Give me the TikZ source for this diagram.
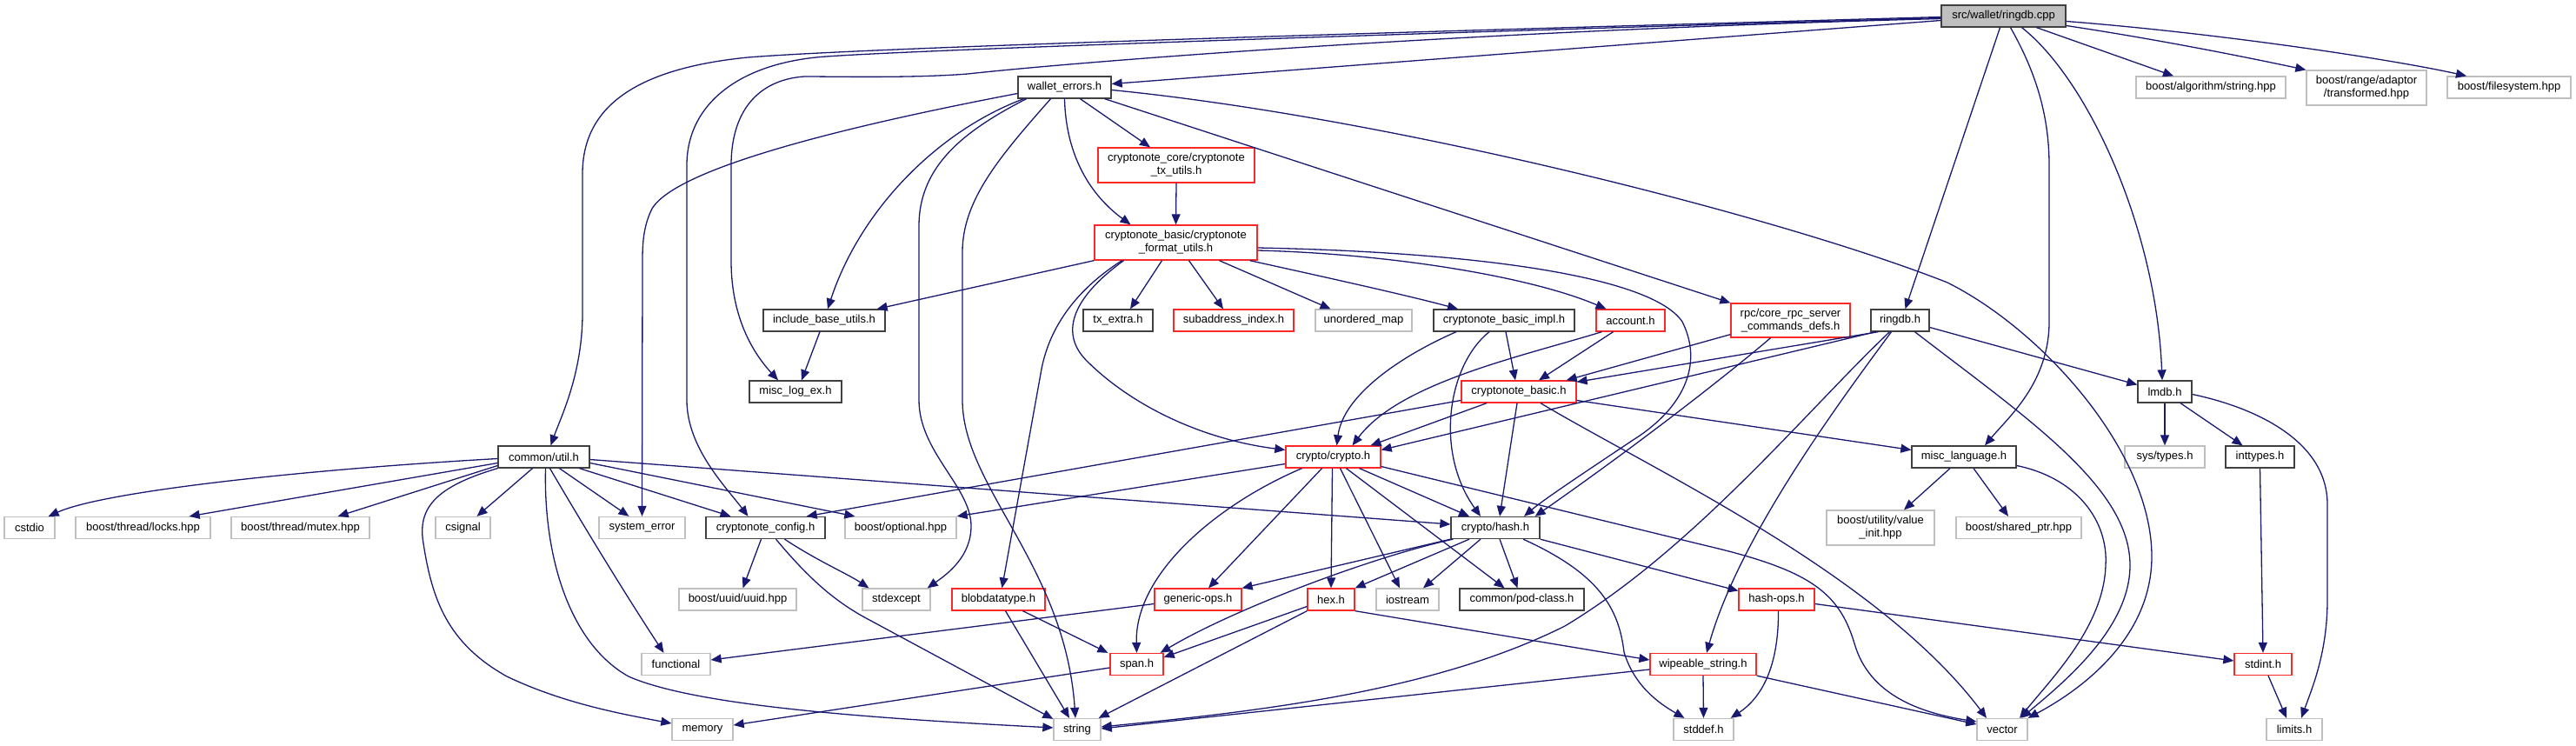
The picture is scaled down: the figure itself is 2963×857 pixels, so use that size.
\documentclass[tikz,border=0pt]{standalone}
\usepackage{fontspec}
\setmainfont{Liberation Sans}
\usetikzlibrary{arrows.meta}
\definecolor{edgec}{RGB}{25,25,112}
\definecolor{bdark}{RGB}{64,64,64}
\definecolor{bred}{RGB}{250,40,40}
\definecolor{bgray}{RGB}{191,191,191}
\begin{document}
\begin{tikzpicture}[x=1pt,y=-1pt,
  font=\fontsize{13}{15}\selectfont,
  box/.style={draw, line width=1.3pt, fill=white, inner sep=0pt, align=center, text=black, minimum height=25pt},
  dk/.style={box, draw=bdark},
  rd/.style={box, draw=bred},
  gy/.style={box, draw=bgray},
  rt/.style={box, draw=bdark, fill=bgray},
  e/.style={draw=edgec, line width=1.3pt, -{Triangle[length=12pt,width=10pt]}}]
\useasboundingbox (0,0) rectangle (2963,857);
% nodes
\node[rt, minimum width=143pt] (root) at (2304.5,18.5) {src/wallet/ringdb.cpp};
\node[dk, minimum width=107pt] (we) at (1224.5,100.5) {wallet\_errors.h};
\node[rd, minimum width=180pt, minimum height=40pt] (txu) at (1353,190) {cryptonote\_core/cryptonote\\\_tx\_utils.h};
\node[rd, minimum width=187pt, minimum height=40pt] (fmt) at (1352.5,279) {cryptonote\_basic/cryptonote\\\_format\_utils.h};
\node[dk, minimum width=140pt] (ibu) at (948,368.5) {include\_base\_utils.h};
\node[dk, minimum width=106pt] (mle) at (915,450.5) {misc\_log\_ex.h};
\node[dk, minimum width=80pt] (txe) at (1286,368.5) {tx\_extra.h};
\node[rd, minimum width=138pt] (sai) at (1419,368.5) {subaddress\_index.h};
\node[gy, minimum width=111pt] (um) at (1568.5,368.5) {unordered\_map};
\node[dk, minimum width=162pt] (cbi) at (1730,368.5) {cryptonote\_basic\_impl.h};
\node[rd, minimum width=79pt] (acc) at (1875.5,368.5) {account.h};
\node[rd, minimum width=137pt, minimum height=39pt] (rpc) at (2059.5,368.5) {rpc/core\_rpc\_server\\\_commands\_defs.h};
\node[dk, minimum width=67pt] (rdh) at (2185.5,368.5) {ringdb.h};
\node[gy, minimum width=172pt] (bas) at (2543,100.5) {boost/algorithm/string.hpp};
\node[gy, minimum width=138pt, minimum height=40pt] (brt) at (2722,101) {boost/range/adaptor\\/transformed.hpp};
\node[gy, minimum width=142pt] (bfs) at (2886,100.5) {boost/filesystem.hpp};
\node[rd, minimum width=132pt] (cbh) at (1747,450.5) {cryptonote\_basic.h};
\node[dk, minimum width=62pt] (lmdb) at (2490,450.5) {lmdb.h};
\node[dk, minimum width=105pt] (cu) at (625.5,525.5) {common/util.h};
\node[rd, minimum width=109pt] (cc) at (1533.5,525.5) {crypto/crypto.h};
\node[dk, minimum width=120pt] (ml) at (2259,525.5) {misc\_language.h};
\node[gy, minimum width=92pt] (syt) at (2490,525.5) {sys/types.h};
\node[dk, minimum width=79pt] (itt) at (2599.5,525.5) {inttypes.h};
\node[gy, minimum width=58pt] (cstdio) at (34,607) {cstdio};
\node[gy, minimum width=155pt] (btl) at (164.5,607) {boost/thread/locks.hpp};
\node[gy, minimum width=159pt] (btm) at (345.5,607) {boost/thread/mutex.hpp};
\node[gy, minimum width=63pt] (csig) at (532.5,607) {csignal};
\node[gy, minimum width=99pt] (se) at (738.5,607) {system\_error};
\node[dk, minimum width=137pt] (ccfg) at (880.5,607) {cryptonote\_config.h};
\node[gy, minimum width=128pt] (bopt) at (1036,607) {boost/optional.hpp};
\node[dk, minimum width=102pt] (ch) at (1720,607) {crypto/hash.h};
\node[gy, minimum width=124pt, minimum height=40pt] (bvi) at (2163,607) {boost/utility/value\\\_init.hpp};
\node[gy, minimum width=144pt] (bsp) at (2322,607) {boost/shared\_ptr.hpp};
\node[gy, minimum width=135pt] (buu) at (848.5,689.5) {boost/uuid/uuid.hpp};
\node[gy, minimum width=78pt] (sexc) at (1031,689.5) {stdexcept};
\node[rd, minimum width=107pt] (blob) at (1148.5,689.5) {blobdatatype.h};
\node[rd, minimum width=100pt] (gen) at (1378,689.5) {generic-ops.h};
\node[rd, minimum width=54pt] (hex) at (1531,689.5) {hex.h};
\node[gy, minimum width=72pt] (ios) at (1619,689.5) {iostream};
\node[dk, minimum width=143pt] (pod) at (1750.5,689.5) {common/pod-class.h};
\node[rd, minimum width=87pt] (hops) at (2043.5,689.5) {hash-ops.h};
\node[gy, minimum width=79pt] (func) at (777.5,764) {functional};
\node[rd, minimum width=61pt] (span) at (1307.5,764) {span.h};
\node[rd, minimum width=122pt] (wps) at (1959,764) {wipeable\_string.h};
\node[rd, minimum width=66pt] (sint) at (2603,764) {stdint.h};
\node[gy, minimum width=70pt] (mem) at (808,839) {memory};
\node[gy, minimum width=54pt] (str) at (1239,839) {string};
\node[gy, minimum width=69pt] (sdef) at (1959.5,839) {stddef.h};
\node[gy, minimum width=58pt] (vec) at (2303,839) {vector};
\node[gy, minimum width=64pt] (lim) at (2639,839) {limits.h};
% root edges
\draw[e] ([yshift=-5pt]root.west) -- ([yshift=4pt]we.east);
\draw[e] ([yshift=-1pt]root.west) .. controls (1500,40) and (1000,55) .. (860,66) .. controls (720,80) and (670,130) .. (670,200) -- (670,360) .. controls (670,430) and (645,480) .. ([xshift=8]cu.north);
\draw[e] ([yshift=-2pt]root.west) .. controls (1500,42) and (1050,58) .. (950,65) .. controls (850,72) and (790,120) .. (790,190) -- (790,460) .. controls (790,515) and (835,560) .. ([xshift=-20]ccfg.north);
\draw[e] ([yshift=-3pt]root.west) .. controls (1700,35) and (1250,70) .. (1113,85) .. controls (1050,90) and (960,88) .. (925,88) .. controls (870,92) and (841,130) .. (841,190) -- (841,300) .. controls (841,370) and (870,410) .. ([xshift=-20]mle.north);
\draw[e] ([xshift=-4]root.south) -- ([xshift=6]rdh.north);
\draw[e] ([xshift=8]root.south) .. controls (2340,80) and (2357,130) .. (2357,190) -- (2357,370) .. controls (2357,440) and (2310,480) .. ([xshift=24]ml.north);
\draw[e] ([xshift=21]root.south) .. controls (2400,90) and (2480,260) .. ([xshift=-3]lmdb.north);
\draw[e] ([xshift=38]root.south) -- ([xshift=-43]bas.north);
\draw[e] ([yshift=-11pt]root.east) .. controls (2480,45) and (2580,65) .. (brt.north west);
\draw[e] ([yshift=-6pt]root.east) .. controls (2550,38) and (2750,68) .. ([xshift=-49]bfs.north);
% wallet_errors
\draw[e] ([xshift=18]we.south) -- ([xshift=-30]txu.north);
\draw[e] (we.south) .. controls (1226,180) and (1255,225) .. ([xshift=-52]fmt.north);
\draw[e] ([xshift=-47]we.south) .. controls (1080,150) and (990,240) .. ([xshift=4]ibu.north);
\draw[e] ([yshift=-7pt]we.west) .. controls (1000,140) and (780,190) .. (750,240) .. controls (740,260) and (739,280) .. (739,300) -- (se.north);
\draw[e] ([xshift=-44]we.south) .. controls (1110,150) and (1057,190) .. (1057,260) -- (1057,460) .. controls (1057,520) and (1117,560) .. (1117,605) .. controls (1117,640) and (1090,660) .. ([xshift=-4]sexc.north east);
\draw[e] ([xshift=-16]we.south) .. controls (1150,180) and (1107,230) .. (1107,290) -- (1107,460) .. controls (1107,560) and (1225,650) .. ([xshift=-2]str.north);
\draw[e] ([xshift=-8]we.south east) -- (rpc.north west);
\draw[e] ([yshift=-3pt]we.east) .. controls (1600,135) and (2050,250) .. (2240,325) .. controls (2350,380) and (2475,520) .. (2475,640) .. controls (2475,730) and (2400,790) .. (vec.north east);
\draw[e] (txu.south) -- (fmt.north);
% format utils
\draw[e] (fmt.south west) -- ([xshift=-10]ibu.north east);
\draw[e] ([xshift=-62]fmt.south) .. controls (1235,335) and (1205,380) .. (1197,430) -- ([xshift=4]blob.north);
\draw[e] ([xshift=-60]fmt.south) .. controls (1230,345) and (1220,385) .. (1250,415) .. controls (1300,465) and (1380,505) .. ([yshift=8pt]cc.west);
\draw[e] ([xshift=-16]fmt.south) -- ([xshift=14]txe.north);
\draw[e] ([xshift=15]fmt.south) -- ([xshift=-12]sai.north);
\draw[e] ([xshift=50]fmt.south) -- ([xshift=-38]um.north);
\draw[e] ([xshift=-9]fmt.south east) .. controls (1530,320) and (1620,340) .. ([xshift=-53]cbi.north);
\draw[e] ([yshift=-9pt]fmt.east) .. controls (1600,292) and (1760,318) .. ([xshift=-28]acc.north);
\draw[e] ([yshift=-6pt]fmt.east) .. controls (1700,290) and (1900,318) .. (1935,370) .. controls (1960,420) and (1935,470) .. (1880,505) .. controls (1820,545) and (1775,575) .. ([xshift=33]ch.north);
% ringdb.h
\draw[e] ([xshift=-25]rdh.south) -- ([yshift=-2pt]cbh.north east);
\draw[e] ([xshift=-28]rdh.south) -- ([yshift=8pt]cc.east);
\draw[e] ([xshift=-12]rdh.south) .. controls (2080,470) and (1950,630) .. (1800,720) .. controls (1650,795) and (1450,818) .. ([yshift=3pt]str.east);
\draw[e] ([xshift=-10]rdh.south) .. controls (2110,470) and (2000,620) .. ([xshift=4]wps.north);
\draw[e] ([xshift=17]rdh.south) .. controls (2330,480) and (2450,560) .. (2450,650) .. controls (2450,720) and (2380,780) .. ([xshift=-8]vec.north east);
\draw[e] ([yshift=-8pt]rdh.east) -- ([yshift=8pt]lmdb.west);
% rpc
\draw[e] ([yshift=4pt]rpc.south west) -- ([xshift=-12]cbh.north east);
\draw[e] ([xshift=-23]rpc.south) .. controls (2000,420) and (1900,500) .. ([xshift=-6]ch.north east);
% basic impl, account
\draw[e] ([xshift=-55]cbi.south) .. controls (1610,410) and (1545,455) .. ([xshift=4]cc.north);
\draw[e] ([xshift=2]cbi.south) -- ([xshift=-4]cbh.north);
\draw[e] ([xshift=-17]cbi.south) .. controls (1665,420) and (1650,520) .. ([xshift=-17]ch.north);
\draw[e] ([xshift=-33]acc.south) .. controls (1750,410) and (1610,440) .. ([xshift=22]cc.north);
\draw[e] ([xshift=-20]acc.south) -- ([xshift=23]cbh.north);
% cryptonote_basic.h
\draw[e] ([xshift=-37]cbh.south) -- ([xshift=43]cc.north);
\draw[e] ([xshift=-2]cbh.south) -- ([xshift=5]ch.north);
\draw[e] ([yshift=-10pt]cbh.west) -- ([xshift=-22]ccfg.north east);
\draw[e] ([yshift=-10pt]cbh.east) -- ([yshift=8pt]ml.west);
\draw[e] ([xshift=25]cbh.south) .. controls (1900,540) and (2160,660) .. ([xshift=-18]vec.north);
% crypto.h
\draw[e] ([xshift=-13]cc.south) -- ([xshift=12]gen.north);
\draw[e] ([xshift=-36]cc.south) .. controls (1400,580) and (1305,660) .. (span.north);
\draw[e] ([yshift=-8pt]cc.west) -- (bopt.north east);
\draw[e] ([xshift=-1]cc.south) -- (hex.north);
\draw[e] ([xshift=8]cc.south) -- ([xshift=-9]ios.north);
\draw[e] ([xshift=15]cc.south) -- ([xshift=-20]pod.north);
\draw[e] ([xshift=-25]cc.south east) -- ([xshift=-30]ch.north);
\draw[e] ([yshift=-11pt]cc.east) -- (1960,627) .. controls (2080,655) and (2115,680) .. (2133,740) .. controls (2150,800) and (2210,820) .. ([yshift=9pt]vec.west);
% common/util.h
\draw[e] ([yshift=-2pt]cu.west) .. controls (350,540) and (120,565) .. ([xshift=-8]cstdio.north east);
\draw[e] ([yshift=-7pt]cu.west) -- ([xshift=-25]btl.north east);
\draw[e] ([yshift=-10pt]cu.west) -- ([xshift=-37]btm.north east);
\draw[e] (cu.south west) .. controls (500,560) and (480,585) .. (487,625) .. controls (497,690) and (515,740) .. (583,778) .. controls (650,810) and (720,822) .. ([yshift=7pt]mem.west);
\draw[e] ([xshift=-13]cu.south) -- ([xshift=16]csig.north);
\draw[e] ([xshift=2]cu.south) .. controls (625,640) and (655,740) .. (723,778) .. controls (800,812) and (1000,826) .. ([yshift=2pt]str.west);
\draw[e] ([xshift=7]cu.south) .. controls (680,620) and (730,700) .. ([xshift=-14]func.north);
\draw[e] ([xshift=18]cu.south) -- ([xshift=-15]se.north);
\draw[e] ([xshift=41]cu.south) -- ([xshift=-40]ccfg.north);
\draw[e] ([yshift=-7pt]cu.east) -- ([xshift=12]bopt.north west);
\draw[e] ([yshift=-3pt]cu.east) -- ([yshift=4pt]ch.west);
% cryptonote_config.h
\draw[e] ([xshift=-5]ccfg.south) -- ([xshift=6]buu.north);
\draw[e] ([xshift=22]ccfg.south) .. controls (940,645) and (975,660) .. ([xshift=8]sexc.north west);
\draw[e] ([xshift=12]ccfg.south) .. controls (930,665) and (960,692) .. (1000,713) -- ([yshift=-1pt]str.north west);
% crypto/hash.h
\draw[e] ([xshift=-30]ch.south) -- (hex.north east);
\draw[e] ([xshift=-17]ch.south) -- ([xshift=18]ios.north);
\draw[e] ([xshift=5]ch.south) -- ([xshift=-5]pod.north);
\draw[e] ([xshift=32]ch.south) .. controls (1840,660) and (1862,700) .. (1868,750) .. controls (1880,790) and (1910,810) .. ([xshift=-22]sdef.north);
\draw[e] (ch.south east) -- ([yshift=10pt]hops.west);
\draw[e] (ch.south west) -- (gen.north east);
\draw[e] ([xshift=3]ch.south west) .. controls (1580,640) and (1420,700) .. ([xshift=-4]span.north east);
% lower level
\draw[e] ([yshift=-8pt]hex.west) -- ([yshift=8pt]span.east);
\draw[e] (hex.south west) -- ([xshift=-3]str.north east);
\draw[e] (hex.south east) -- ([yshift=5pt]wps.west);
\draw[e] ([xshift=28]blob.south) -- ([xshift=-2]span.north west);
\draw[e] ([xshift=8]blob.south) -- ([xshift=-9]str.north);
\draw[e] ([yshift=-5pt]gen.west) -- ([yshift=5pt]func.east);
\draw[e] ([yshift=-4pt]span.west) -- ([yshift=5pt]mem.east);
\draw[e] ([xshift=2]hops.south) .. controls (2046,760) and (2030,800) .. ([xshift=-4]sdef.north east);
\draw[e] ([yshift=-5pt]hops.east) -- ([yshift=4pt]sint.west);
\draw[e] (wps.south) -- (sdef.north);
\draw[e] (wps.south east) -- ([yshift=6pt]vec.west);
\draw[e] ([yshift=-6pt]wps.west) -- ([yshift=1pt]str.east);
% misc_language
\draw[e] ([xshift=-16]ml.south) -- ([xshift=27]bvi.north);
\draw[e] ([xshift=11]ml.south) -- ([xshift=-12]bsp.north);
\draw[e] ([yshift=-10pt]ml.east) .. controls (2390,550) and (2425,600) .. (2422,650) .. controls (2420,720) and (2360,780) .. ([xshift=20]vec.north);
% lmdb
\draw[e] (lmdb.south) -- (syt.north);
\draw[e] ([xshift=18]lmdb.south) -- ([xshift=-20]itt.north);
\draw[e] ([yshift=-3pt]lmdb.east) .. controls (2600,470) and (2677,510) .. (2677,580) -- (2677,690) .. controls (2677,750) and (2660,790) .. ([xshift=8]lim.north);
\draw[e] (itt.south) -- (sint.north);
\draw[e] ([xshift=6]sint.south) -- ([xshift=-9]lim.north);
\draw[e] ([xshift=-5]ibu.south) -- ([xshift=7]mle.north);
\end{tikzpicture}
\end{document}
